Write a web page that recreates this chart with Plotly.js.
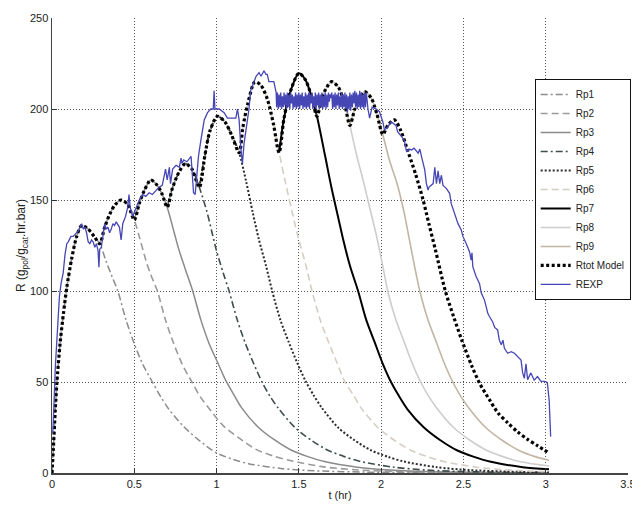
<!DOCTYPE html>
<html>
<head>
<meta charset="utf-8">
<script src="https://cdn.plot.ly/plotly-3.0.1.min.js"></script>
<style>html,body{margin:0;padding:0;background:#fff;}#chart{width:632px;height:506px;}</style>
</head>
<body>
<div id="chart"></div>
<script>
// ---- data (t in hr, R in g_pol/g_cat.hr.bar) ----
const rp1T = [0, 0.008, 0.02, 0.03, 0.05, 0.07, 0.09, 0.12, 0.15, 0.18, 0.22, 0.26, 0.29, 0.33, 0.36, 0.40, 0.45, 0.50, 0.55, 0.61, 0.66, 0.71, 0.80, 0.90, 1.0, 1.1, 1.2, 1.4, 1.6, 1.9, 2.4, 3.02];
const rp1R = [0, 13, 35, 50, 72, 88, 102, 118, 130, 136, 134, 129.5, 126, 116, 109, 100, 84, 71, 60, 50, 42, 35, 25.5, 17.5, 11, 7.5, 5, 2.4, 1.2, 0.5, 0.2, 0.1];

const rp2T = [0.29, 0.32, 0.35, 0.38, 0.42, 0.46, 0.50, 0.53, 0.57, 0.60, 0.64, 0.69, 0.74, 0.79, 0.85, 0.90, 0.95, 1.04, 1.14, 1.24, 1.34, 1.44, 1.64, 1.84, 2.14, 2.6, 3.02];
const rp2R = [126, 135, 142, 147, 150, 147.5, 139, 130, 117, 109, 100, 84, 71, 60, 50, 42, 36, 26, 19, 13, 9.5, 7, 3.5, 1.8, 0.7, 0.2, 0.1];

const rp3T = [0.50, 0.53, 0.56, 0.60, 0.64, 0.67, 0.70, 0.74, 0.77, 0.81, 0.855, 0.905, 0.955, 1.005, 1.055, 1.105, 1.155, 1.255, 1.355, 1.455, 1.555, 1.655, 1.855, 2.055, 2.355, 2.7, 3.02];
const rp3R = [139, 148, 155, 161, 158, 153, 146, 133, 123, 112, 100, 84, 71, 61, 51, 43, 35.5, 25, 18, 12.5, 9, 6.3, 3.2, 1.6, 0.6, 0.2, 0.1];

const rp4T = [0.70, 0.73, 0.77, 0.81, 0.85, 0.895, 0.94, 0.97, 1.0, 1.04, 1.076, 1.126, 1.176, 1.226, 1.276, 1.326, 1.376, 1.476, 1.576, 1.676, 1.776, 1.876, 2.076, 2.276, 2.576, 3.02];
const rp4R = [146, 156, 165, 170, 167, 157, 144, 133, 122, 110, 100, 84, 71, 60, 50, 42, 35.5, 25, 18, 12.5, 9, 6.3, 3.2, 1.6, 0.6, 0.2];

const rp5T = [0.895, 0.93, 0.96, 1.005, 1.05, 1.09, 1.137, 1.18, 1.22, 1.258, 1.30, 1.338, 1.388, 1.438, 1.488, 1.538, 1.588, 1.638, 1.738, 1.838, 1.938, 2.038, 2.138, 2.338, 2.538, 2.838, 3.02];
const rp5R = [157, 175, 188, 196, 193, 186, 176, 160, 143, 128, 114, 100, 84, 72, 61, 51, 43, 36, 25, 18, 12.5, 9, 6.3, 3.2, 1.6, 0.6, 0.3];

const rp6T = [1.137, 1.16, 1.19, 1.233, 1.27, 1.31, 1.345, 1.38, 1.42, 1.46, 1.50, 1.54, 1.58, 1.63, 1.68, 1.73, 1.78, 1.83, 1.88, 1.98, 2.08, 2.18, 2.28, 2.38, 2.58, 2.78, 3.02];
const rp6R = [176, 190, 203, 215, 213, 205, 192, 176, 159, 143, 128, 115, 100, 84, 72, 61, 50, 43, 35.5, 25, 18, 12.5, 9, 6.3, 3.2, 1.6, 0.7];

const rp7T = [1.38, 1.41, 1.45, 1.50, 1.54, 1.58, 1.61, 1.66, 1.70, 1.74, 1.77, 1.81, 1.86, 1.91, 1.96, 2.01, 2.06, 2.11, 2.16, 2.26, 2.36, 2.46, 2.56, 2.66, 2.86, 3.02];
const rp7R = [176, 195, 210, 219.6, 216, 206, 196, 174, 156, 140, 128, 114, 100, 84, 72, 60, 50, 42, 35, 25, 18, 12.5, 9, 6.3, 3.2, 2];

const rp8T = [1.61, 1.64, 1.67, 1.70, 1.74, 1.78, 1.81, 1.85, 1.89, 1.93, 1.97, 2.005, 2.04, 2.09, 2.14, 2.19, 2.24, 2.29, 2.34, 2.44, 2.54, 2.64, 2.74, 2.84, 3.02];
const rp8R = [196, 206, 212, 215, 212, 202, 191, 175, 161, 146, 131, 116, 100, 84, 72, 60, 50, 42, 35.5, 25, 18, 12.5, 9, 6.3, 3.8];

const rp9T = [1.81, 1.84, 1.87, 1.90, 1.94, 1.975, 2.01, 2.05, 2.10, 2.14, 2.17, 2.20, 2.235, 2.285, 2.335, 2.385, 2.435, 2.485, 2.535, 2.635, 2.735, 2.835, 2.935, 3.02];
const rp9R = [191, 200, 206, 209.5, 206, 197, 186, 172, 158, 143, 129, 115, 100, 84, 72, 60, 50, 42, 35.5, 25, 18, 12.5, 9, 7];

const rtotT = [0, 0.008, 0.02, 0.03, 0.05, 0.07, 0.09, 0.12, 0.15, 0.18, 0.22, 0.26, 0.29, 0.32, 0.35, 0.38, 0.42, 0.46, 0.50, 0.53, 0.56, 0.60, 0.64, 0.67, 0.70, 0.73, 0.77, 0.81, 0.85, 0.895, 0.93, 0.96, 1.005, 1.05, 1.09, 1.137, 1.16, 1.19, 1.233, 1.27, 1.31, 1.345, 1.38, 1.41, 1.45, 1.50, 1.54, 1.58, 1.61, 1.64, 1.67, 1.70, 1.74, 1.78, 1.81, 1.84, 1.87, 1.90, 1.94, 1.975, 2.01, 2.04, 2.08, 2.12, 2.16, 2.21, 2.255, 2.29, 2.33, 2.39, 2.44, 2.49, 2.55, 2.60, 2.66, 2.71, 2.77, 2.83, 2.89, 2.95, 3.02];
const rtotR = [0, 13, 35, 50, 72, 88, 102, 118, 130, 136, 134, 129.5, 126, 135, 142, 147, 150, 147.5, 139, 148, 155, 161, 158, 153, 146, 156, 165, 170, 167, 157, 175, 188, 196, 193, 186, 176, 190, 203, 215, 213, 205, 192, 176, 195, 210, 219.6, 216, 206, 196, 206, 212, 215, 212, 202, 191, 200, 206, 209.5, 206, 197, 186, 191, 194, 188, 177.5, 164, 150, 137, 122.5, 100, 86, 73, 59, 49, 40, 33, 27.5, 22.5, 18.5, 15, 11];

const rexpT = [0.005, 0.010, 0.015, 0.020, 0.028, 0.036, 0.045, 0.055, 0.068, 0.079, 0.090, 0.099, 0.115, 0.129, 0.149, 0.160, 0.170, 0.180, 0.190, 0.200, 0.210, 0.220, 0.230, 0.240, 0.250, 0.260, 0.270, 0.280, 0.285, 0.290, 0.300, 0.310, 0.320, 0.330, 0.340, 0.350, 0.360, 0.370, 0.380, 0.390, 0.400, 0.410, 0.420, 0.430, 0.447, 0.460, 0.468, 0.475, 0.490, 0.510, 0.530, 0.550, 0.570, 0.590, 0.610, 0.630, 0.650, 0.670, 0.683, 0.690, 0.700, 0.713, 0.720, 0.733, 0.754, 0.774, 0.784, 0.790, 0.800, 0.820, 0.845, 0.855, 0.860, 0.870, 0.876, 0.890, 0.905, 0.915, 0.925, 0.945, 0.965, 0.980, 0.985, 0.990, 1.016, 1.046, 1.066, 1.096, 1.117, 1.127, 1.137, 1.147, 1.157, 1.167, 1.187, 1.197, 1.207, 1.227, 1.240, 1.258, 1.270, 1.288, 1.300, 1.308, 1.318, 1.348, 1.362,
  1.365, 1.370, 1.375, 1.380, 1.385, 1.390, 1.395, 1.400, 1.405, 1.410, 1.415, 1.420, 1.425, 1.430, 1.435, 1.440, 1.445, 1.450, 1.455, 1.460, 1.465, 1.470, 1.475, 1.480, 1.485, 1.490, 1.495, 1.500, 1.505, 1.510, 1.515, 1.520, 1.525, 1.530, 1.535, 1.540, 1.545, 1.550, 1.555, 1.560, 1.565, 1.570, 1.575, 1.580, 1.585, 1.590, 1.595, 1.600, 1.605, 1.610, 1.615, 1.620, 1.625, 1.630, 1.635, 1.640, 1.645, 1.650, 1.655, 1.660, 1.665, 1.670, 1.675, 1.680, 1.685, 1.690, 1.695, 1.700, 1.705, 1.710, 1.715, 1.720, 1.725, 1.730, 1.735, 1.740, 1.745, 1.750, 1.755, 1.760, 1.765, 1.770, 1.775, 1.780, 1.785, 1.790, 1.795, 1.800, 1.805, 1.810, 1.815, 1.820, 1.825, 1.830, 1.835, 1.840, 1.845, 1.850, 1.855, 1.860, 1.865, 1.870, 1.875, 1.880, 1.885, 1.890, 1.895, 1.900, 1.905,
  1.910, 1.920, 1.930, 1.945, 1.970, 1.990, 2.010, 2.020, 2.040, 2.060, 2.090, 2.100, 2.120, 2.140, 2.155, 2.170, 2.185, 2.200, 2.225, 2.235, 2.245, 2.265, 2.275, 2.285, 2.290, 2.316, 2.326, 2.336, 2.346, 2.356, 2.366, 2.376, 2.396, 2.416, 2.426, 2.447, 2.467, 2.487, 2.497, 2.517, 2.537, 2.547, 2.552, 2.557, 2.577, 2.598, 2.608, 2.618, 2.628, 2.638, 2.648, 2.658, 2.678, 2.690, 2.708, 2.718, 2.730, 2.740, 2.749, 2.769, 2.790, 2.810, 2.829, 2.850, 2.860, 2.870, 2.880, 2.890, 2.910, 2.930, 2.950, 2.970, 3.000, 3.010, 3.021, 3.027, 3.030];
const rexpR = [22, 30, 45, 58, 72, 85, 97, 104, 110, 120, 126, 127, 130, 130, 132, 133, 135, 137, 134, 135, 132, 127, 126, 128, 127, 124, 126, 122, 113, 123, 124, 132, 137, 134, 135, 132, 134, 137, 136, 138, 136, 135, 128, 137, 141, 146, 153, 146, 141, 146, 150, 153, 152, 154, 153, 155, 157, 158, 163, 167, 161, 168, 159, 167, 169, 168, 173, 170, 172, 171, 174, 163, 154, 153, 161, 174, 183, 189, 194, 198, 200, 200, 210, 200, 200, 198, 195, 195, 195, 200, 194, 179, 170, 181, 194, 200, 210, 215, 218, 220, 218, 221, 219, 219, 215, 215, 209,
  201, 209, 200, 208, 201, 209, 200, 207, 201, 209, 202, 208, 200, 209, 201, 208, 200, 209, 203, 208, 200, 207, 201, 209, 200, 208, 201, 209, 200, 208, 202, 209, 200, 207, 201, 209, 200, 208, 201, 209, 200, 208, 203, 209, 200, 207, 201, 209, 200, 208, 202, 209, 200, 208, 201, 209, 200, 207, 201, 209, 200, 208, 201, 209, 204, 208, 206, 209, 200, 208, 201, 209, 200, 208, 202, 209, 200, 207, 201, 209, 200, 208, 201, 209, 200, 208, 198, 207, 200, 209, 199, 208, 201, 209, 203, 210, 201, 209, 200, 208, 201, 210, 200, 209, 201, 208, 200, 209, 201,
  209, 200, 195, 201, 200, 198.5, 193, 188.5, 190, 193, 191, 187.5, 185, 183, 176.5, 178, 177.5, 178.5, 175.7, 178, 174, 166.5, 159, 155.5, 157, 159, 168, 159, 166, 159, 163.6, 158, 156.4, 153.7, 148, 142.7, 137, 133.5, 130, 126, 121.6, 117, 121, 113.4, 108, 104, 99, 97, 95, 91.4, 87.7, 86, 83, 80, 78.6, 73, 70.5, 73, 68.5, 65.8, 66.7, 65.8, 64, 62, 55, 52, 60, 51.3, 55, 51, 53, 50.5, 50.2, 49.5, 40, 31, 20];

const seriesNames = ['Rp1', 'Rp2', 'Rp3', 'Rp4', 'Rp5', 'Rp6', 'Rp7', 'Rp8', 'Rp9', 'Rtot Model', 'REXP'];
const xTickVals = [0, 0.5, 1, 1.5, 2, 2.5, 3, 3.5];
const yTickVals = [0, 50, 100, 150, 200, 250];

// ---- styles ----
const styles = [
  {color: '#8c8c8c', width: 1.5, dash: '7px,3px,2px,3px'},
  {color: '#9a9a9a', width: 1.6, dash: '7px,4px'},
  {color: '#8a8a8a', width: 1.5, dash: 'solid'},
  {color: '#3e4d4d', width: 1.6, dash: '7px,3px,2px,3px'},
  {color: '#2a2a2a', width: 2.0, dash: '2px,2px'},
  {color: '#d6cdc2', width: 1.6, dash: '7px,4px'},
  {color: '#000000', width: 2.0, dash: 'solid'},
  {color: '#cdcdcd', width: 1.6, dash: 'solid'},
  {color: '#c2b6a3', width: 1.6, dash: 'solid'},
  {color: '#000000', width: 3.2, dash: '3px,2.5px'},
  {color: '#4646b4', width: 1.3, dash: 'solid'}
];

const xs = [rp1T, rp2T, rp3T, rp4T, rp5T, rp6T, rp7T, rp8T, rp9T, rtotT, rexpT];
const ys = [rp1R, rp2R, rp3R, rp4R, rp5R, rp6R, rp7R, rp8R, rp9R, rtotR, rexpR];

const traces = seriesNames.map((name, i) => ({
  type: 'scatter', mode: 'lines', name: name,
  x: xs[i], y: ys[i],
  line: {color: styles[i].color, width: styles[i].width, dash: styles[i].dash,
         shape: i === 10 ? 'linear' : 'spline', smoothing: 0.8},
  hoverinfo: 'skip'
}));

const fontFam = 'Liberation Sans, Arial, sans-serif';
const layout = {
  width: 632, height: 506,
  margin: {l: 52, r: 1, t: 18, b: 33, pad: 0},
  paper_bgcolor: '#ffffff', plot_bgcolor: '#ffffff',
  font: {family: fontFam, size: 11, color: '#222'},
  showlegend: true,
  legend: {x: 0.838, y: 0.866, xanchor: 'left', yanchor: 'top',
           bgcolor: '#ffffff', bordercolor: '#111', borderwidth: 1,
           font: {family: fontFam, size: 10, color: '#222'}, itemwidth: 30},
  xaxis: {range: [0, 3.5], tickvals: xTickVals, ticktext: xTickVals.map(String),
          showgrid: true, gridcolor: '#555', griddash: '1px,2px', gridwidth: 1,
          zeroline: false, showline: true, linecolor: '#444', linewidth: 1.5,
          ticks: 'inside', ticklen: 5, tickcolor: '#333', tickwidth: 1,
          ticklabeloverflow: 'allow', automargin: false,
          tickfont: {family: fontFam, size: 11, color: '#222'},
          title: {text: 't (hr)', font: {family: fontFam, size: 11, color: '#222'}, standoff: 2}},
  yaxis: {range: [0, 250], tickvals: yTickVals, ticktext: yTickVals.map(String),
          showgrid: true, gridcolor: '#555', griddash: '1px,2px', gridwidth: 1,
          zeroline: false, showline: true, linecolor: '#444', linewidth: 1.5,
          ticks: 'inside', ticklen: 5, tickcolor: '#333', tickwidth: 1,
          automargin: false,
          tickfont: {family: fontFam, size: 11, color: '#222'},
          title: {text: 'R (g<sub>pol</sub>/g<sub>cat</sub>.hr.bar)', font: {family: fontFam, size: 12, color: '#222'}, standoff: 0}}
};

Plotly.newPlot('chart', traces, layout, {displayModeBar: false, staticPlot: true});
</script>
</body>
</html>
